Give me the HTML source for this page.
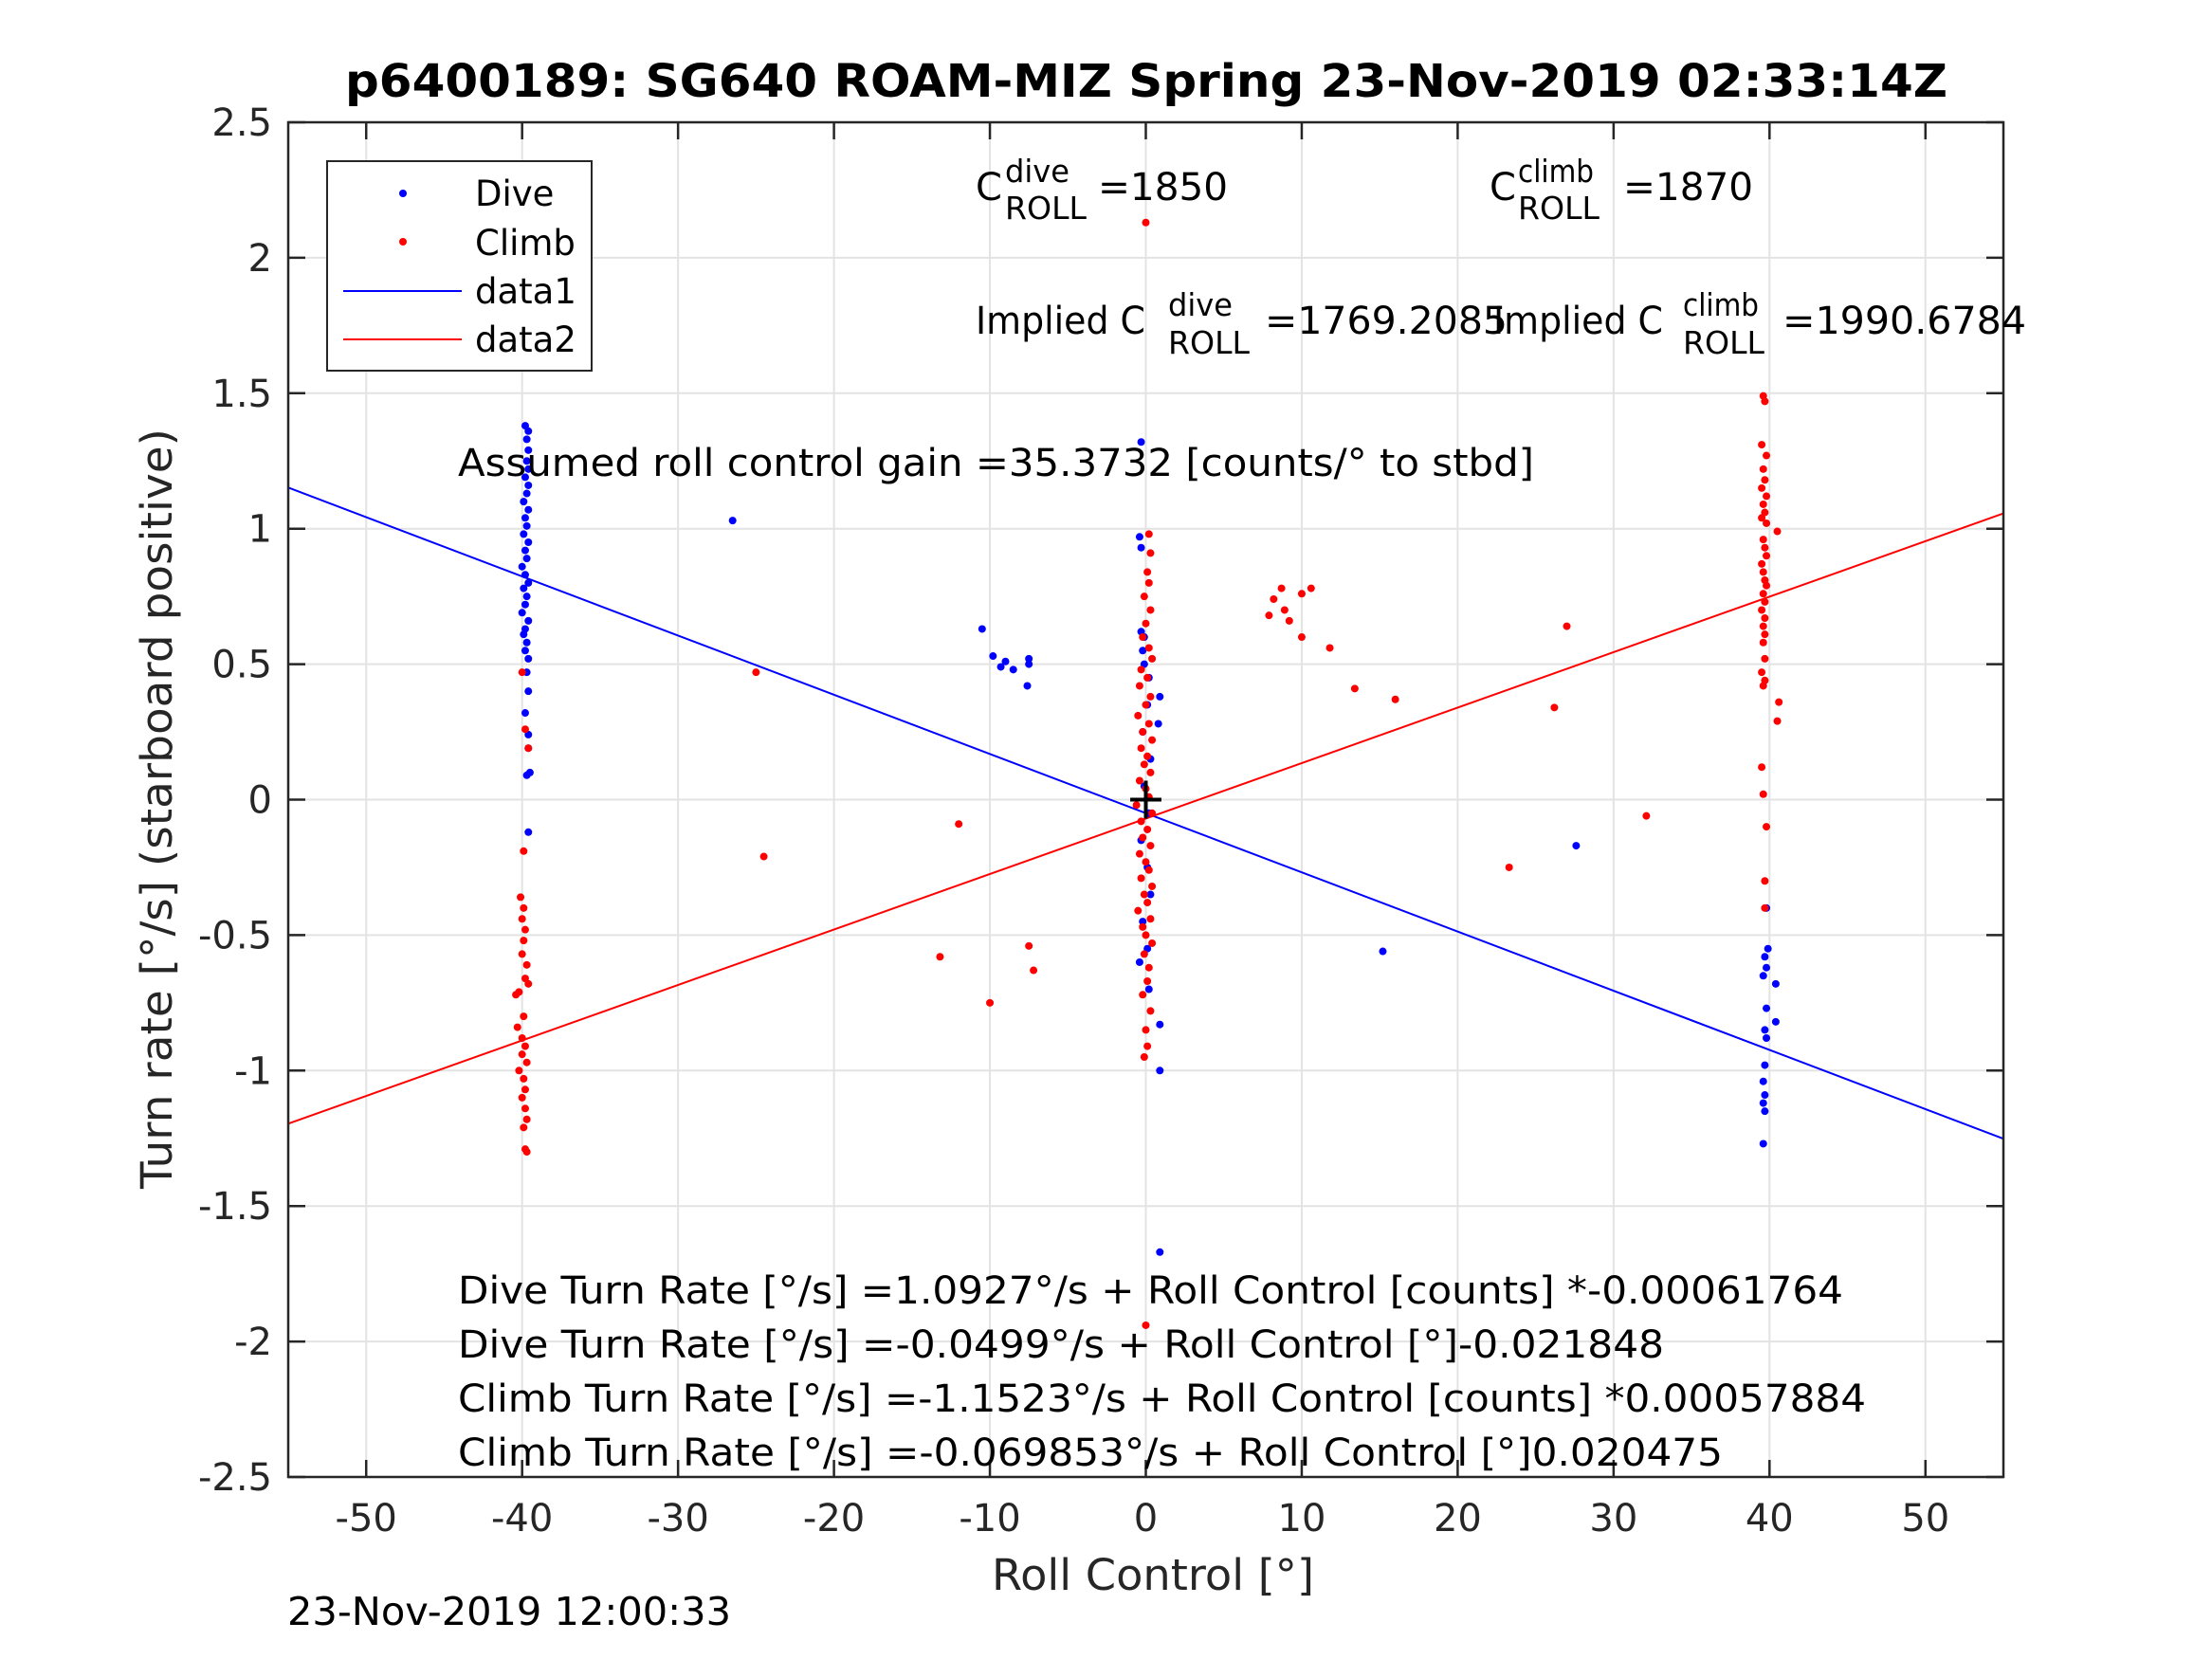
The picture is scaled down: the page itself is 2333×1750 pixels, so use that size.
<!DOCTYPE html>
<html><head><meta charset="utf-8"><style>
html,body{margin:0;padding:0;background:#fff;}
svg{display:block;font-family:"DejaVu Sans","Liberation Sans",sans-serif;}
</style></head><body>
<svg id="chart" width="2333" height="1750" viewBox="0 0 2333 1750" xmlns="http://www.w3.org/2000/svg">
<rect width="2333" height="1750" fill="#fff"/>
<text x="364" y="102" font-size="48" font-weight="bold" textLength="1690" lengthAdjust="spacingAndGlyphs" fill="#000">p6400189: SG640 ROAM-MIZ Spring 23-Nov-2019 02:33:14Z</text>
<g id="grid"></g>
<g id="marks"></g>
<g id="axes"></g>
<g font-size="40" fill="#000">
 <text x="1029" y="211">C</text>
 <text x="1060" y="192" font-size="33" textLength="68" lengthAdjust="spacingAndGlyphs">dive</text>
 <text x="1060" y="231" font-size="33" textLength="86" lengthAdjust="spacingAndGlyphs">ROLL</text>
 <text x="1158" y="211" textLength="137" lengthAdjust="spacingAndGlyphs">=1850</text>
 <text x="1571" y="211">C</text>
 <text x="1601" y="192" font-size="33" textLength="80" lengthAdjust="spacingAndGlyphs">climb</text>
 <text x="1601" y="231" font-size="33" textLength="86" lengthAdjust="spacingAndGlyphs">ROLL</text>
 <text x="1712" y="211" textLength="137" lengthAdjust="spacingAndGlyphs">=1870</text>
 <text x="1029" y="352" textLength="179" lengthAdjust="spacingAndGlyphs">Implied C</text>
 <text x="1232" y="333" font-size="33" textLength="68" lengthAdjust="spacingAndGlyphs">dive</text>
 <text x="1232" y="373" font-size="33" textLength="86" lengthAdjust="spacingAndGlyphs">ROLL</text>
 <text x="1334" y="352" textLength="256" lengthAdjust="spacingAndGlyphs">=1769.2085</text>
 <text x="1575" y="352" textLength="179" lengthAdjust="spacingAndGlyphs">Implied C</text>
 <text x="1775" y="333" font-size="33" textLength="80" lengthAdjust="spacingAndGlyphs">climb</text>
 <text x="1775" y="373" font-size="33" textLength="86" lengthAdjust="spacingAndGlyphs">ROLL</text>
 <text x="1880" y="352" textLength="257" lengthAdjust="spacingAndGlyphs">=1990.6784</text>
 <text x="483" y="502" textLength="1135" lengthAdjust="spacingAndGlyphs">Assumed roll control gain =35.3732 [counts/° to stbd]</text>
 <text x="483" y="1375" textLength="1461" lengthAdjust="spacingAndGlyphs">Dive Turn Rate [°/s] =1.0927°/s + Roll Control [counts] *-0.00061764</text>
 <text x="483" y="1432" textLength="1272" lengthAdjust="spacingAndGlyphs">Dive Turn Rate [°/s] =-0.0499°/s + Roll Control [°]-0.021848</text>
 <text x="483" y="1489" textLength="1485" lengthAdjust="spacingAndGlyphs">Climb Turn Rate [°/s] =-1.1523°/s + Roll Control [counts] *0.00057884</text>
 <text x="483" y="1546" textLength="1334" lengthAdjust="spacingAndGlyphs">Climb Turn Rate [°/s] =-0.069853°/s + Roll Control [°]0.020475</text>
</g>
<g>
 <rect x="345" y="170" width="279" height="221" fill="#fff" stroke="#262626" stroke-width="2"/>
 <circle cx="425" cy="204" r="4" fill="#0000ff"/>
 <text x="501" y="217" font-size="37">Dive</text>
 <circle cx="425" cy="255" r="4" fill="#ff0000"/>
 <text x="501" y="269" font-size="37">Climb</text>
 <line x1="362" y1="307" x2="487" y2="307" stroke="#0000ff" stroke-width="2"/>
 <text x="501" y="320" font-size="37">data1</text>
 <line x1="362" y1="358" x2="487" y2="358" stroke="#ff0000" stroke-width="2"/>
 <text x="501" y="371" font-size="37">data2</text>
</g>
<text x="1216" y="1677" font-size="45" text-anchor="middle" textLength="340" lengthAdjust="spacingAndGlyphs" fill="#262626">Roll Control [°]</text>
<text transform="translate(181,853) rotate(-90)" font-size="45" text-anchor="middle" textLength="802" lengthAdjust="spacingAndGlyphs" fill="#262626">Turn rate [°/s] (starboard positive)</text>
<text x="303" y="1714" font-size="41" textLength="468" lengthAdjust="spacingAndGlyphs" fill="#000">23-Nov-2019 12:00:33</text>
</svg>
<script>
const xTicks=[-50,-40,-30,-20,-10,0,10,20,30,40,50];
const yTicks=[-2.5,-2,-1.5,-1,-0.5,0,0.5,1,1.5,2,2.5];
const yTickLabels=["-2.5","-2","-1.5","-1","-0.5","0","0.5","1","1.5","2","2.5"];
const diveX=[-39.8,-39.6,-39.7,-39.6,-39.7,-39.6,-39.8,-39.6,-39.7,-39.9,-39.6,-39.8,-39.7,-39.9,-39.6,-39.8,-39.7,-40.0,-39.8,-39.6,-39.9,-39.7,-39.8,-40.0,-39.6,-39.8,-39.9,-39.7,-39.8,-39.6,-39.7,-39.6,-39.8,-39.6,-39.6,-39.5,-39.7,-39.6,
 -26.5,-10.5,-9.8,-9.3,-9.0,-8.5,-7.5,-7.5,-7.6,15.2,27.6,0.9,0.9,0.9,0.9,0.8,-0.3,-0.4,-0.3,
 -0.3,-0.2,-0.1,0.2,0.1,-0.2,0.3,-0.1,0.2,-0.3,0.1,0.3,-0.2,0.1,-0.4,0.2,-0.1,
 39.8,39.9,39.7,39.8,39.6,40.4,39.8,40.4,39.7,39.8,39.7,39.6,39.7,39.6,39.7,39.6];
const diveY=[1.38,1.36,1.33,1.29,1.25,1.22,1.19,1.16,1.13,1.10,1.07,1.04,1.01,0.98,0.95,0.92,0.89,0.86,0.83,0.80,0.78,0.75,0.72,0.69,0.66,0.63,0.61,0.58,0.55,0.52,0.47,0.40,0.32,0.24,0.19,0.10,0.09,-0.12,
 1.03,0.63,0.53,0.49,0.51,0.48,0.52,0.50,0.42,-0.56,-0.17,-1.67,-1.00,-0.83,0.38,0.28,1.32,0.97,0.93,
 0.62,0.55,0.50,0.45,0.35,0.25,0.15,0.05,-0.05,-0.15,-0.25,-0.35,-0.45,-0.55,-0.60,-0.70,0.60,
 -0.40,-0.55,-0.58,-0.62,-0.65,-0.68,-0.77,-0.82,-0.85,-0.88,-0.98,-1.04,-1.09,-1.12,-1.15,-1.27];
const climbX=[-40.0,-39.8,-39.6,-39.9,-40.1,-39.9,-40.0,-39.8,-39.9,-40.0,-39.7,-39.8,-39.6,-40.2,-40.4,-39.9,-40.3,-40.0,-39.8,-40.0,-39.7,-40.2,-39.9,-39.8,-40.0,-39.8,-39.7,-39.9,-39.8,-39.7,
 -25.0,-24.5,-12.0,-13.2,-10.0,-7.5,-7.2,7.9,8.2,8.7,8.9,9.2,10.0,10.6,10.0,11.8,13.4,16.0,27.0,26.2,23.3,32.1,0.0,0.0,
 0.2,0.3,0.1,0.2,-0.1,0.3,0.0,-0.2,0.2,0.4,-0.3,0.1,-0.4,0.3,0.0,-0.5,0.2,-0.2,0.4,-0.3,0.1,-0.1,0.3,-0.4,0.0,0.2,-0.6,0.4,-0.3,0.1,-0.2,0.3,-0.4,0.0,0.2,-0.3,0.4,-0.1,0.1,-0.5,0.3,-0.2,0.0,0.4,-0.1,0.2,0.1,-0.2,0.3,0.0,0.1,-0.1,
 39.7,39.7,39.6,39.7,39.5,39.8,39.6,39.7,39.5,39.8,39.6,39.7,39.5,39.8,39.6,39.7,39.5,39.8,40.5,39.6,39.7,39.8,39.5,39.6,39.7,39.8,39.6,39.7,39.5,39.7,39.6,39.7,39.6,39.7,39.5,39.6,40.6,40.5];
const climbY=[0.47,0.26,0.19,-0.19,-0.36,-0.40,-0.44,-0.48,-0.52,-0.57,-0.61,-0.66,-0.68,-0.71,-0.72,-0.80,-0.84,-0.88,-0.91,-0.94,-0.97,-1.00,-1.03,-1.07,-1.10,-1.14,-1.18,-1.21,-1.29,-1.30,
 0.47,-0.21,-0.09,-0.58,-0.75,-0.54,-0.63,0.68,0.74,0.78,0.70,0.66,0.76,0.78,0.60,0.56,0.41,0.37,0.64,0.34,-0.25,-0.06,2.13,-1.94,
 0.98,0.91,0.84,0.80,0.75,0.70,0.65,0.60,0.56,0.52,0.48,0.45,0.42,0.38,0.35,0.31,0.28,0.25,0.22,0.19,0.16,0.13,0.10,0.07,0.04,0.01,-0.02,-0.05,-0.08,-0.11,-0.14,-0.17,-0.20,-0.23,-0.26,-0.29,-0.32,-0.35,-0.38,-0.41,-0.44,-0.47,-0.50,-0.53,-0.57,-0.62,-0.67,-0.72,-0.78,-0.85,-0.91,-0.95,0.44,-0.30,0.02,-0.40,0.12,-0.10,
 1.49,1.47,1.31,1.27,1.22,1.18,1.15,1.12,1.09,1.06,1.04,1.02,0.99,0.96,0.93,0.90,0.87,0.84,0.81,0.79,0.76,0.73,0.70,0.67,0.64,0.61,0.58,0.52,0.47,0.42,0.36,0.29,0.27,0.22,0.14,0.11,1.06,0.78];
const diveIntercept=-0.0499, diveSlope=-0.021848;
const climbIntercept=-0.069853, climbSlope=0.020475;
const xDomain=[-55,55], yDomain=[-2.5,2.5];

const L=304,R=2113,T=129,B=1558;
const NS="http://www.w3.org/2000/svg";
function sx(v){return L+(v-xDomain[0])/(xDomain[1]-xDomain[0])*(R-L);}
function sy(v){return B-(v-yDomain[0])/(yDomain[1]-yDomain[0])*(B-T);}
function mk(tag,attrs,parent){const e=document.createElementNS(NS,tag);for(const k in attrs)e.setAttribute(k,attrs[k]);parent.appendChild(e);return e;}
const grid=document.getElementById('grid'),marks=document.getElementById('marks'),axes=document.getElementById('axes');
mk('rect',{x:L,y:T,width:R-L,height:B-T,fill:'#fff'},grid);
xTicks.forEach(v=>{const g=mk('line',{x1:sx(v),x2:sx(v),y1:T,y2:B,stroke:'#e3e3e3','stroke-width':2},grid);

});
yTicks.forEach(v=>{const g=mk('line',{x1:L,x2:R,y1:sy(v),y2:sy(v),stroke:'#e3e3e3','stroke-width':2},grid);

});
const l1=mk('line',{x1:sx(xDomain[0]),y1:sy(diveIntercept+diveSlope*xDomain[0]),x2:sx(xDomain[1]),y2:sy(diveIntercept+diveSlope*xDomain[1]),stroke:'#0000ff','stroke-width':2},marks);


const l2=mk('line',{x1:sx(xDomain[0]),y1:sy(climbIntercept+climbSlope*xDomain[0]),x2:sx(xDomain[1]),y2:sy(climbIntercept+climbSlope*xDomain[1]),stroke:'#ff0000','stroke-width':2},marks);


diveX.forEach((x,i)=>{const c=mk('circle',{cx:sx(x),cy:sy(diveY[i]),r:4,fill:'#0000ff'},marks);

});
climbX.forEach((x,i)=>{const c=mk('circle',{cx:sx(x),cy:sy(climbY[i]),r:4,fill:'#ff0000'},marks);

});
const cx1=mk('line',{x1:sx(-1),x2:sx(1),y1:sy(0),y2:sy(0),stroke:'#000','stroke-width':4},marks);


const cx2=mk('line',{x1:sx(0),x2:sx(0),y1:sy(0.07),y2:sy(-0.07),stroke:'#000','stroke-width':4},marks);


const box=mk('rect',{x:L,y:T,width:R-L,height:B-T,fill:'none',stroke:'#262626','stroke-width':2.5},axes);


xTicks.forEach(v=>{mk('line',{x1:sx(v),x2:sx(v),y1:B,y2:B-18,stroke:'#262626','stroke-width':2.5},axes);
mk('line',{x1:sx(v),x2:sx(v),y1:T,y2:T+18,stroke:'#262626','stroke-width':2.5},axes);
const t=mk('text',{x:sx(v),y:1615,'font-size':40,'text-anchor':'middle',fill:'#262626'},axes);t.textContent=String(v);

});
yTicks.forEach((v,i)=>{mk('line',{x1:L,x2:L+18,y1:sy(v),y2:sy(v),stroke:'#262626','stroke-width':2.5},axes);
mk('line',{x1:R,x2:R-18,y1:sy(v),y2:sy(v),stroke:'#262626','stroke-width':2.5},axes);
const t=mk('text',{x:287,y:sy(v)+14,'font-size':40,'text-anchor':'end',fill:'#262626'},axes);t.textContent=yTickLabels[i];

});
</script>
</body></html>
